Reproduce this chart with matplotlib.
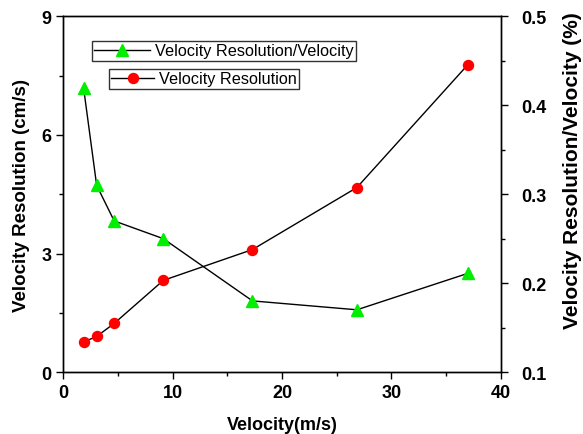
import matplotlib
matplotlib.use('agg')
import matplotlib.pyplot as plt
from matplotlib.ticker import MultipleLocator

# data
velocity = [1.85, 3.05, 4.65, 9.15, 17.3, 26.85, 37.0]
resolution = [0.76, 0.90, 1.23, 2.32, 3.10, 4.67, 7.78]
ratio = [0.420, 0.310, 0.270, 0.250, 0.180, 0.170, 0.211]

plt.rcParams['font.family'] = ['Liberation Sans', 'DejaVu Sans']

fig = plt.figure(figsize=(5.83, 4.35), dpi=100)
ax = fig.add_axes([0.1086, 0.1425, 0.7502, 0.8173])
ax2 = ax.twinx()

l1, = ax.plot(velocity, resolution, color='black', linewidth=1.0,
              marker='o', markersize=7.2, markerfacecolor='red',
              markeredgecolor='red', label='Velocity Resolution')
l2, = ax2.plot(velocity, ratio, color='black', linewidth=1.0,
               marker='^', markersize=8.2, markerfacecolor='#00ee00',
               markeredgecolor='#00ee00', label='Velocity Resolution/Velocity')

ax.set_xlim(0, 40)
ax.set_ylim(0, 9)
ax2.set_ylim(0.1, 0.5)
ax.xaxis.set_major_locator(MultipleLocator(10))
ax.xaxis.set_minor_locator(MultipleLocator(5))
ax.yaxis.set_major_locator(MultipleLocator(3))
ax.yaxis.set_minor_locator(MultipleLocator(1.5))
ax2.yaxis.set_major_locator(MultipleLocator(0.1))
ax2.yaxis.set_minor_locator(MultipleLocator(0.05))

for a in (ax, ax2):
    a.tick_params(which='major', length=5, width=1, labelsize=13, direction='out')
    a.tick_params(which='minor', length=3, width=1, direction='out')
    for lab in a.get_xticklabels() + a.get_yticklabels():
        lab.set_fontweight('bold')
    for s in a.spines.values():
        s.set_linewidth(1.0)
ax2.tick_params(axis='y', pad=10)

ax.set_xlabel('Velocity(m/s)', fontsize=13, fontweight='bold', labelpad=11)
ax.set_ylabel('Velocity Resolution (cm/s)', fontsize=13.5, fontweight='bold', labelpad=8)
fig.text(572 / 583, 1 - 171 / 435, 'Velocity Resolution/Velocity (%)', rotation=90,
         ha='center', va='center', fontsize=15, fontweight='bold')

leg_kw = dict(fontsize=11.7, frameon=True, fancybox=False, edgecolor='black',
              borderpad=0.15, handletextpad=0.3, borderaxespad=0)
lg2 = ax2.legend(handles=[l2], loc='upper left', bbox_to_anchor=(92 / 583, 1 - 42 / 435),
                 bbox_transform=fig.transFigure, handlelength=3.4, **leg_kw)
lg2.get_frame().set_linewidth(1.0)
lg1 = ax2.legend(handles=[l1], loc='upper left', bbox_to_anchor=(109 / 583, 1 - 70 / 435),
                 bbox_transform=fig.transFigure, handlelength=2.6, **leg_kw)
lg1.get_frame().set_linewidth(1.0)
ax2.add_artist(lg2)

fig.savefig('out.png', dpi=100)
